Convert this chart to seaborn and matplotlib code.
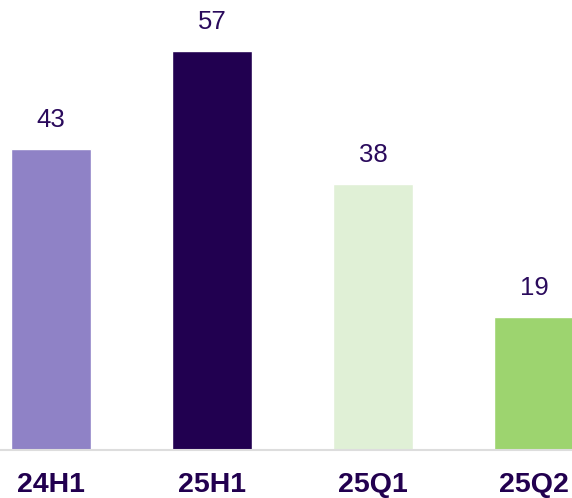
import matplotlib
matplotlib.use("Agg")
import matplotlib.pyplot as plt
import seaborn as sns
import pandas as pd

# data
periods = ["24H1", "25H1", "25Q1", "25Q2"]
values = [43, 57, 38, 19]
bar_colors = ["#8f82c6", "#210050", "#e0f0d6", "#9dd46f"]

df = pd.DataFrame({"period": periods, "value": values})

sns.set_style("white")
plt.rcParams["font.family"] = ["Liberation Sans", "DejaVu Sans"]

text_color = "#2a0a5c"

fig = plt.figure(figsize=(5.72, 4.98), dpi=100)
ax = fig.add_axes([0, 48 / 498, 1, 450 / 498])

sns.barplot(data=df, x="period", y="value", hue="period", palette=bar_colors,
            width=0.5, legend=False, saturation=1, ax=ax)

for c in ax.containers:
    ax.bar_label(c, padding=12, fontsize=18.5, color=text_color)

ax.set_xlim(-51 / 161, (572 - 51) / 161)
ax.set_ylim(0, 450 / 7)
ax.set_xlabel("")
ax.set_ylabel("")
ax.set_yticks([])
ax.tick_params(axis="x", length=0, pad=16)
for lab in ax.get_xticklabels():
    lab.set_fontsize(20.5)
    lab.set_fontweight("bold")
    lab.set_color("#22004f")

for s in ["top", "left", "right"]:
    ax.spines[s].set_visible(False)
ax.spines["bottom"].set_color("#dddddd")
ax.spines["bottom"].set_linewidth(1.5)

fig.savefig("out.png", dpi=100)
